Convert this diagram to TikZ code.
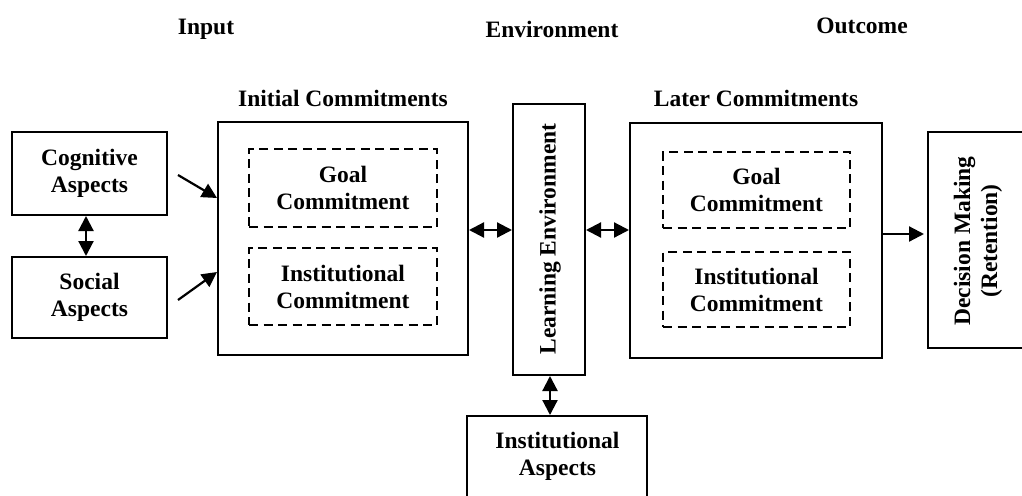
\documentclass[tikz,border=0pt]{standalone}
\usepackage{fontspec}
\setmainfont{Liberation Serif}
\usetikzlibrary{arrows.meta}
\begin{document}
\begin{tikzpicture}[x=1pt,y=-1pt,
  every node/.style={font=\fontsize{23.5}{27}\selectfont\bfseries, align=center, inner sep=0pt},
  frame/.style={draw, line width=2pt},
  dframe/.style={draw, line width=2pt, dash pattern=on 9pt off 5.5pt},
  tip/.tip={Triangle[length=15pt,width=15pt]},
  arr/.style={line width=2.2pt, -tip},
  darr/.style={line width=2.2pt, tip-tip}]
\useasboundingbox (0,0) rectangle (1022,495);
\clip (0,0) rectangle (1022,495);

% column headings
\node (hin)  at (206,29) {Input};
\node (henv) at (552,29) {Environment};
\node (hout) at (862,26) {Outcome};

% input aspects
\node[frame, minimum width=155pt, minimum height=83pt] (cog) at (89.5,173.5) {Cognitive\\Aspects};
\node[frame, minimum width=155pt, minimum height=81pt] (soc) at (89.5,297.5) {Social\\Aspects};

% initial commitments
\node[frame, minimum width=250pt, minimum height=233pt] (init) at (343,238.5) {};
\node (hini) at ([yshift=23pt]init.north) {Initial Commitments};
\node[dframe, minimum width=188pt, minimum height=78pt] (igoal) at (343,188) {Goal\\Commitment};
\node[dframe, minimum width=188pt, minimum height=77pt] (iinst) at (343,286.5) {Institutional\\Commitment};

% learning environment
\node[frame, minimum width=72pt, minimum height=271pt] (le) at (549,239.5) {};
\node[rotate=90] (letext) at (550,239) {Learning Environment};

% later commitments
\node[frame, minimum width=252pt, minimum height=235pt] (later) at (756,240.5) {};
\node (hlat) at ([yshift=24pt]later.north) {Later Commitments};
\node[dframe, minimum width=187pt, minimum height=76pt] (lgoal) at (756.5,190) {Goal\\Commitment};
\node[dframe, minimum width=187pt, minimum height=75pt] (linst) at (756.5,289.5) {Institutional\\Commitment};

% decision making
\node[frame, minimum width=102pt, minimum height=216pt] (dec) at (979,240) {};
\node[rotate=90] (dectext) at (978,241) {Decision Making\\(Retention)};

% institutional aspects
\node[frame, minimum width=180pt, minimum height=81pt] (ia) at (557,456.5) {};
\node (iatext) at (557.5,456) {Institutional\\Aspects};

% connectors
\draw[darr] ([xshift=-3.5pt]cog.south) -- ([xshift=-3.5pt]soc.north);
\draw[arr] ([xshift=10pt,yshift=-1.5pt]cog.east) -- ([yshift=40.5pt]init.west);
\draw[arr] ([xshift=10pt,yshift=-2.5pt]soc.east) -- ([yshift=-33.5pt]init.west);

\coordinate (l1) at ([yshift=8.5pt]init.east);
\draw[darr] (l1) -- (l1 -| le.west);
\coordinate (r1) at ([yshift=9.5pt]le.east);
\draw[darr] (r1) -- (r1 -| later.west);
\coordinate (o1) at ([yshift=6.5pt]later.east);
\draw[arr, shorten >=3pt] (o1) -- (o1 -| dec.west);
\coordinate (v1) at ([xshift=1pt]le.south);
\draw[darr] (v1) -- (v1 |- ia.north);
\end{tikzpicture}
\end{document}
